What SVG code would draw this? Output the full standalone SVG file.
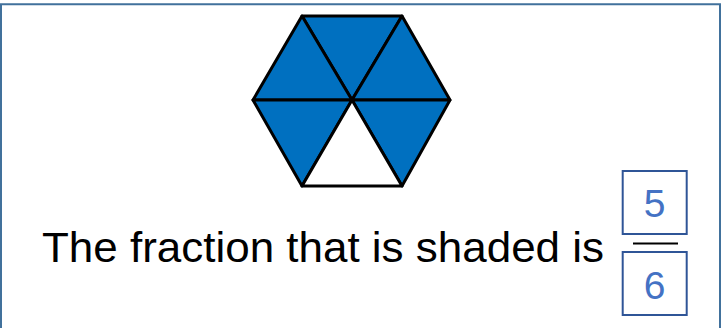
<svg xmlns="http://www.w3.org/2000/svg" width="722" height="328" viewBox="0 0 722 328">
<style>
.tri{fill:#0070C0;stroke:#000;stroke-width:3;stroke-linejoin:round}
.tri.white{fill:#fff}
.box{fill:#fff;stroke:#2F5597;stroke-width:2}
.num{font-family:"Liberation Sans",Arial,sans-serif;font-size:39px;fill:#4472C4;text-anchor:middle}
.label{font-family:"Liberation Sans",Arial,sans-serif;font-size:43px;fill:#000}
</style>
<rect width="722" height="328" fill="#fff"/>
<g id="frame" fill="none" stroke="#41719C" stroke-width="2">
<path d="M1,340 V4.3 H720 V340"/>
</g>
<g id="hexagon">
<polygon class="tri" points="302,16 402,16 352,100"/>
<polygon class="tri" points="402,16 450,100 352,100"/>
<polygon class="tri" points="302,16 352,100 253,100"/>
<polygon class="tri" points="253,100 352,100 302,186"/>
<polygon class="tri" points="352,100 450,100 402,186"/>
<polygon class="tri white" points="352,100 402,186 302,186"/>
</g>
<g id="label">
<text class="label" x="42" y="261.5" textLength="562" lengthAdjust="spacingAndGlyphs">The fraction that is shaded is</text>
</g>
<g id="numerator">
<rect class="box" x="622.7" y="171" width="64" height="63"/>
<text class="num" x="654.7" y="217.3">5</text>
</g>
<g id="fraction-bar">
<line x1="633" y1="243.5" x2="678" y2="243.5" stroke="#000" stroke-width="2"/>
</g>
<g id="denominator">
<rect class="box" x="622.7" y="252" width="64" height="63"/>
<text class="num" x="654.7" y="299.3">6</text>
</g>
</svg>
